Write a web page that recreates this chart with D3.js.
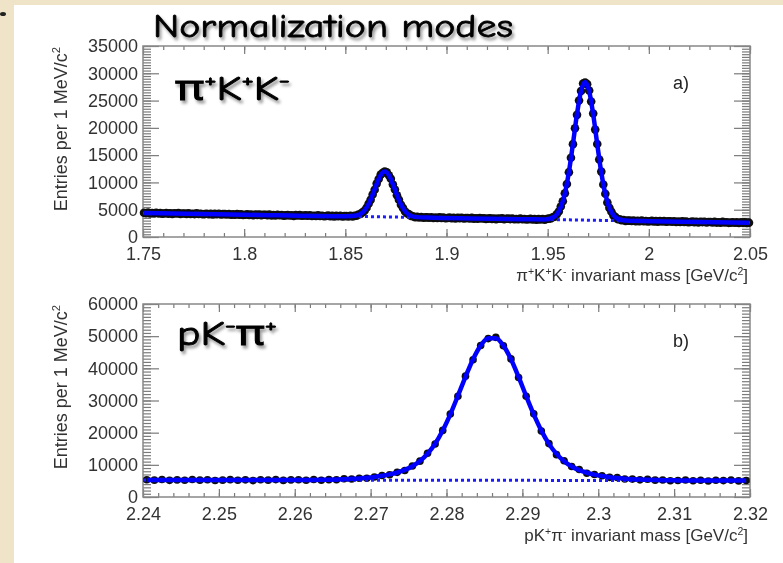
<!DOCTYPE html>
<html>
<head>
<meta charset="utf-8">
<script src="https://cdn.jsdelivr.net/npm/d3@7"></script>
<style>
  body { margin: 0; background: #efe4c8; }
  svg { display: block; }
</style>
</head>
<body>
<script>
// ---- top panel : pi+ K+ K- (D+ and Ds), entries per 1 MeV bin starting at 1.750
var kkBinStart = 1.750, kkBinWidth = 0.001;
var kkCounts = [
  4440,4364,4458,4322,4386,4320,4444,4338,4382,4276,
  4320,4394,4288,4352,4236,4360,4294,4368,4242,4306,
  4320,4244,4338,4202,4266,4200,4324,4218,4262,4156,
  4200,4274,4168,4232,4116,4240,4174,4248,4122,4186,
  4200,4124,4218,4082,4146,4080,4204,4098,4142,4036,
  4080,4154,4048,4112,3996,4120,4054,4128,4002,4066,
  4080,4004,4098,3962,4026,3960,4084,3978,4022,3916,
  3960,4034,3928,3992,3876,4000,3934,4008,3882,3946,
  3960,3884,3978,3842,3906,3840,3964,3858,3902,3796,
  3840,3914,3808,3872,3756,3880,3814,3888,3762,3826,
  3846,3777,3884,3772,3878,3885,4127,4203,4520,4799,
  5363,6100,6804,7796,8670,9787,10626,11429,11778,12006,
  11856,11305,10670,9629,8700,7644,6840,5924,5305,4679,
  4338,4139,3851,3797,3608,3690,3600,3661,3528,3589,
  3600,3524,3618,3482,3546,3480,3604,3498,3542,3436,
  3480,3554,3448,3512,3396,3520,3454,3528,3402,3466,
  3480,3404,3498,3362,3426,3360,3484,3378,3422,3316,
  3360,3434,3328,3392,3276,3400,3334,3408,3282,3346,
  3360,3284,3378,3242,3306,3240,3364,3258,3302,3196,
  3240,3314,3208,3272,3156,3280,3218,3296,3179,3291,
  3359,3377,3625,3737,4173,4669,5584,6561,8014,9705,
  11879,14513,17014,19918,22386,25018,26764,28124,28292,28012,
  26840,24822,22638,19678,17042,14209,11983,9627,7924,6309,
  5340,4623,3955,3647,3283,3253,3093,3113,2957,3003,
  3000,2924,3018,2882,2946,2880,3004,2898,2942,2836,
  2880,2954,2848,2912,2796,2920,2854,2928,2802,2866,
  2880,2804,2898,2762,2826,2760,2884,2778,2822,2716,
  2760,2834,2728,2792,2676,2800,2734,2808,2682,2746,
  2760,2684,2778,2642,2706,2640,2764,2658,2702,2596,
  2640,2714,2608,2672,2556,2680,2614,2688,2562,2626
];
// fit curve (signal + background), read at a few masses
var kkFitMass = [1.7505,1.8005,1.8505,1.8555,1.8595,1.8615,1.8635,1.8655,1.8675,1.8695,
                 1.8715,1.8735,1.8755,1.8775,1.8795,1.8815,1.8845,1.8905,1.9405,1.9485,
                 1.9525,1.9545,1.9565,1.9585,1.9605,1.9625,1.9645,1.9665,1.9685,1.9705,
                 1.9725,1.9745,1.9765,1.9785,1.9805,1.9825,1.9845,1.9885,2.0005,2.0495];
var kkFitValue = [4400,4100,3806,3935,4869,6040,7766,9737,11359,11986,
                  11335,9689,7694,5944,4749,4079,3688,3560,3260,3226,
                  3555,4163,5504,7984,11919,17094,22546,26784,28392,26760,
                  22498,17022,11823,7864,5360,3995,3363,3007,2900,2606];
var kkBkgMass = [1.75, 2.05];
var kkBkgValue = [4403, 2603];
var kkXTicks = [1.75, 1.8, 1.85, 1.9, 1.95, 2, 2.05];
var kkXLabels = ["1.75", "1.8", "1.85", "1.9", "1.95", "2", "2.05"];
var kkYTicks = [0, 5000, 10000, 15000, 20000, 25000, 30000, 35000];
var kkYLabels = ["0", "5000", "10000", "15000", "20000", "25000", "30000", "35000"];

// ---- bottom panel : p K- pi+ (Lambda_c), entries per 1 MeV bin starting at 2.240
var lcBinStart = 2.240, lcBinWidth = 0.001;
var lcCounts = [
  5380,5237,5435,5172,5310,5187,5445,5242,5340,5137,
  5235,5392,5190,5327,5105,5362,5240,5405,5166,5310,
  5356,5229,5448,5217,5400,5341,5684,5599,5848,5848,
  6205,6703,6940,7668,8255,9653,11150,13588,16455,20703,
  25820,31328,37575,42673,47110,49238,49625,47013,42930,37138,
  31335,25853,20510,16608,13165,11273,9470,8568,7395,7013,
  6590,6108,6045,5581,5566,5327,5498,5233,5284,5051,
  5126,5269,5057,5189,4960,5217,5095,5252,5010,5147
];
var lcFit = [
  5300,5298,5295,5293,5290,5288,5285,5283,5280,5278,
  5275,5273,5270,5268,5265,5263,5260,5265,5266,5270,
  5276,5289,5308,5337,5380,5441,5524,5639,5788,5988,
  6245,6583,7020,7608,8415,9553,11170,13448,16555,20663,
  25700,31418,37365,42853,47080,49388,49385,47073,42840,37348,
  31395,25673,20630,16518,13405,11123,9500,8358,7545,6953,
  6510,6168,5905,5701,5546,5427,5338,5273,5224,5191,
  5166,5149,5137,5129,5115,5113,5110,5108,5105,5103
];
var lcBkgMass = [2.24, 2.32];
var lcBkgValue = [5301, 5101];
var lcXTicks = [2.24, 2.25, 2.26, 2.27, 2.28, 2.29, 2.3, 2.31, 2.32];
var lcXLabels = ["2.24", "2.25", "2.26", "2.27", "2.28", "2.29", "2.3", "2.31", "2.32"];
var lcYTicks = [0, 10000, 20000, 30000, 40000, 50000, 60000];
var lcYLabels = ["0", "10000", "20000", "30000", "40000", "50000", "60000"];

var W = 783, H = 563;
var rootFont = "'Liberation Sans', Arial, Helvetica, sans-serif";
var comicFont = "'Comic Sans MS', 'Comic Neue', 'Noto Sans', sans-serif";

var svg = d3.select("body").append("svg")
    .attr("width", W)
    .attr("height", H);

var defs = svg.append("defs");
var soft = defs.append("filter").attr("id", "soft");
soft.append("feGaussianBlur").attr("stdDeviation", 0.4);

var sh = defs.append("filter").attr("id", "shadow")
    .attr("x", "-10%").attr("y", "-40%").attr("width", "130%").attr("height", "190%");
sh.append("feGaussianBlur").attr("in", "SourceAlpha").attr("stdDeviation", 1.4);
sh.append("feOffset").attr("dx", 2).attr("dy", 3).attr("result", "b");
sh.append("feFlood").attr("flood-color", "#000").attr("flood-opacity", 0.4);
sh.append("feComposite").attr("in2", "b").attr("operator", "in");
var mrg = sh.append("feMerge");
mrg.append("feMergeNode");
mrg.append("feMergeNode").attr("in", "SourceGraphic");

// parchment slide and white sheet
svg.append("rect").attr("width", W).attr("height", H).attr("fill", "#efe4c8");
svg.append("rect").attr("x", 14).attr("y", 5).attr("width", W - 14).attr("height", H - 5).attr("fill", "#fff");
svg.append("ellipse").attr("cx", 3).attr("cy", 14).attr("rx", 3).attr("ry", 2).attr("fill", "#222");

// text with superscripts, parts = [[text, isSup], ...]
function rich(sel, parts, fs) {
  var up = 0;
  parts.forEach(function(p) {
    var t = sel.append("tspan").text(p[0]);
    if (p[1]) {
      t.attr("font-size", fs * 0.62).attr("dy", -fs * 0.38 - up);
      up = -fs * 0.38;
    } else {
      t.attr("dy", -up);
      up = 0;
    }
  });
  return sel;
}

function panel(p) {
  var g = svg.append("g").attr("filter", "url(#soft)");

  var x = d3.scaleLinear().domain(p.xDomain).range([143, 750]);
  var y = d3.scaleLinear().domain(p.yDomain).range([p.bottom, p.top]);

  function axis(gen, tx, ty, vals, size, labels, pad) {
    var a = gen.tickValues(vals).tickSize(-size).tickSizeOuter(0)
        .tickPadding(pad || 3)
        .tickFormat(labels ? function(d, i) { return labels[i]; } : "");
    var ag = g.append("g")
        .attr("transform", "translate(" + tx + "," + ty + ")")
        .attr("color", "#7a7a7a")
        .call(a);
    ag.select(".domain").remove();
    ag.selectAll("line").attr("stroke-width", 1.2);
    ag.selectAll("text")
        .attr("fill", "#333")
        .style("font-family", rootFont)
        .style("font-size", "18px");
    return ag;
  }

  // x axis: minor + major, bottom and mirrored top
  axis(d3.axisBottom(x), 0, p.bottom, p.xMinor, 4);
  axis(d3.axisBottom(x), 0, p.bottom, p.xTicks, 8, p.xLabels, 10);
  axis(d3.axisTop(x), 0, p.top, p.xMinor, 4);
  axis(d3.axisTop(x), 0, p.top, p.xTicks, 8);
  // y axis: minor + major, left and mirrored right
  axis(d3.axisLeft(y), 143, 0, p.yMinor, 8);
  axis(d3.axisLeft(y), 143, 0, p.yTicks, 16, p.yLabels, 5);
  axis(d3.axisRight(y), 750, 0, p.yMinor, 8);
  axis(d3.axisRight(y), 750, 0, p.yTicks, 16);

  g.append("rect")
      .attr("x", 143).attr("y", p.top)
      .attr("width", 750 - 143).attr("height", p.bottom - p.top)
      .attr("fill", "none").attr("stroke", "#888").attr("stroke-width", 1.5);

  // data points
  g.append("g").selectAll("circle")
      .data(p.counts)
    .enter().append("circle")
      .attr("cx", function(d, i) { return x(p.binStart + (i + 0.5) * p.binWidth); })
      .attr("cy", function(d) { return y(d); })
      .attr("r", p.dot)
      .attr("fill", "#0c0c0c");

  var line = d3.line()
      .x(function(d) { return x(d[0]); })
      .y(function(d) { return y(d[1]); })
      .curve(d3.curveMonotoneX);

  // background component (dashed)
  g.append("path")
      .datum(d3.zip(p.bkgMass, p.bkgValue))
      .attr("d", line)
      .attr("fill", "none")
      .attr("stroke", "#1a1aff")
      .attr("stroke-width", 3)
      .attr("stroke-dasharray", "3,3");

  // total fit
  g.append("path")
      .datum(d3.zip(p.fitMass, p.fitValue))
      .attr("d", line)
      .attr("fill", "none")
      .attr("stroke", "#0000ff")
      .attr("stroke-width", 4.5);

  // panel tag a) / b)
  g.append("text")
      .attr("x", 673).attr("y", p.top + 43)
      .style("font-family", rootFont).style("font-size", "18px")
      .attr("fill", "#222")
      .text(p.tag);

  // x title
  rich(g.append("text")
      .attr("x", 748).attr("y", p.bottom + 44)
      .attr("text-anchor", "end")
      .style("font-family", rootFont).style("font-size", "17px")
      .attr("fill", "#333"), p.xTitle, 17);

  // y title
  rich(g.append("text")
      .attr("transform", "translate(67," + (p.top + 1) + ") rotate(-90)")
      .attr("text-anchor", "end")
      .style("font-family", rootFont).style("font-size", "18px")
      .attr("fill", "#333"), [["Entries per 1 MeV/c", 0], ["2", 1]], 18);

  // big decay label
  rich(svg.append("text")
      .attr("x", p.label.x).attr("y", p.label.y)
      .attr("textLength", p.label.w)
      .attr("lengthAdjust", "spacingAndGlyphs")
      .attr("filter", "url(#shadow)")
      .attr("stroke", "#000").attr("stroke-width", 0.9)
      .style("font-family", comicFont).style("font-size", "34px")
      .attr("fill", "#000"), p.label.parts, 34);
}

panel({
  top: 46, bottom: 237,
  xDomain: [1.75, 2.05], yDomain: [0, 35000],
  xTicks: kkXTicks, xLabels: kkXLabels,
  xMinor: d3.range(1.75, 2.0505, 0.01),
  yTicks: kkYTicks, yLabels: kkYLabels,
  yMinor: d3.range(0, 35001, 500),
  binStart: kkBinStart, binWidth: kkBinWidth, counts: kkCounts, dot: 4.3,
  fitMass: kkFitMass, fitValue: kkFitValue,
  bkgMass: kkBkgMass, bkgValue: kkBkgValue,
  tag: "a)",
  xTitle: [["\u03c0", 0], ["+", 1], ["K", 0], ["+", 1], ["K", 0], ["-", 1],
           [" invariant mass [GeV/c", 0], ["2", 1], ["]", 0]],
  label: { x: 175, y: 100, w: 115,
           parts: [["\u03c0", 0], ["+", 1], ["K", 0], ["+", 1], ["K", 0], ["-", 1]] }
});

panel({
  top: 304, bottom: 497,
  xDomain: [2.24, 2.32], yDomain: [0, 60000],
  xTicks: lcXTicks, xLabels: lcXLabels,
  xMinor: d3.range(2.24, 2.3201, 0.002),
  yTicks: lcYTicks, yLabels: lcYLabels,
  yMinor: d3.range(0, 60001, 1000),
  binStart: lcBinStart, binWidth: lcBinWidth, counts: lcCounts, dot: 3.8,
  fitMass: lcCounts.map(function(d, i) { return lcBinStart + (i + 0.5) * lcBinWidth; }),
  fitValue: lcFit,
  bkgMass: lcBkgMass, bkgValue: lcBkgValue,
  tag: "b)",
  xTitle: [["pK", 0], ["+", 1], ["\u03c0", 0], ["-", 1],
           [" invariant mass [GeV/c", 0], ["2", 1], ["]", 0]],
  label: { x: 177, y: 345, w: 100,
           parts: [["pK", 0], ["-", 1], ["\u03c0", 0], ["+", 1]] }
});

// slide title
svg.append("text")
    .attr("x", 153).attr("y", 37)
    .attr("textLength", 360)
    .attr("lengthAdjust", "spacingAndGlyphs")
    .attr("filter", "url(#shadow)")
    .attr("stroke", "#000").attr("stroke-width", 0.8)
    .style("font-family", comicFont).style("font-size", "33px")
    .attr("fill", "#000")
    .text("Normalization modes");
</script>
</body>
</html>
